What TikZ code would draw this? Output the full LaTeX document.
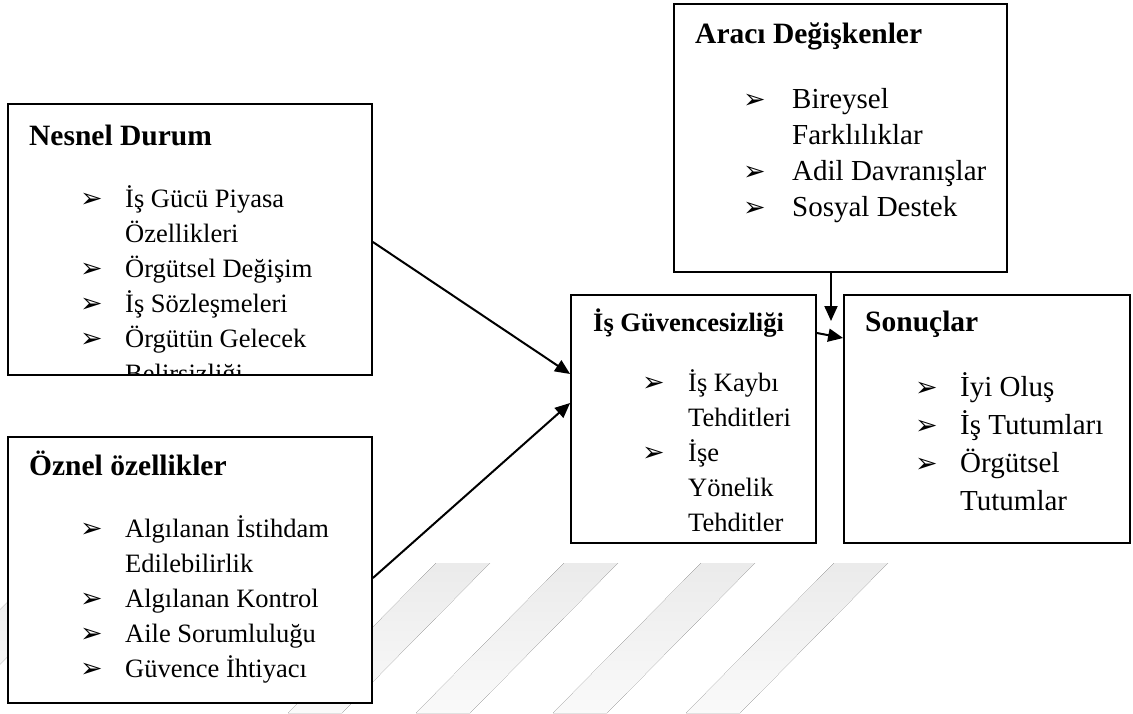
\documentclass[tikz,border=0pt]{standalone}
\usepackage{fontspec}
\setmainfont{Liberation Serif}
\newfontfamily\dingfont{DejaVu Sans}
\usetikzlibrary{calc,arrows.meta}

\begin{document}
\begin{tikzpicture}[x=1pt,y=-1pt,
  box/.style={draw, line width=1.8pt, fill=white, rectangle, inner sep=0pt},
  arr/.style={line width=2pt, -{Triangle[length=15pt,width=13pt]}},
  ttl/.style={anchor=base west, inner sep=0pt, font=\bfseries\fontsize{29.5}{29.5}\selectfont},
  ttls/.style={ttl, font=\bfseries\fontsize{26.5}{26.5}\selectfont},
  txt/.style={anchor=base west, inner sep=0pt, font=\fontsize{26.5}{26.5}\selectfont},
  txtl/.style={txt, font=\fontsize{29}{29}\selectfont},
  blt/.style={anchor=base west, inner sep=0pt, font=\dingfont\fontsize{27}{27}\selectfont},
  wm/.style={top color=black!8, bottom color=black!2, draw=none}
]
\useasboundingbox (0,0) rectangle (1133,713);

% faint diagonal stripes in the lower part of the page
\foreach \x in {46,436,564,701,834}
  \fill[wm] (\x,563) -- (\x+54,563) -- (\x+54-148,713) -- (\x-148,713) -- cycle;

% boxes
\node[box, minimum width=364pt, minimum height=271pt] (nes) at (190,239.5) {};
\node[box, minimum width=364pt, minimum height=266pt] (ozn) at (190,570) {};
\node[box, minimum width=333pt, minimum height=268pt] (ara) at (840.5,138) {};
\node[box, minimum width=245pt, minimum height=248pt] (guv) at (693.5,419) {};
\node[box, minimum width=286pt, minimum height=248pt] (son) at (987,419) {};

% connectors
\coordinate (araend) at (831,321);
\draw[arr] ($(nes.east)+(0,2.5)$) -- ($(guv.west)+(0,-45)$);
\draw[arr] ($(ozn.east)+(0,8)$) -- ($(guv.west)+(0,-16)$);
\draw[arr] ($(ara.south)+(-9.5,0)$) -- (araend);
\draw[arr] ($(guv.east)+(0,-86)$) -- ($(son.west)+(0,-81)$);

% Nesnel Durum
\node[ttl] (t1) at (29,145) {Nesnel Durum};
\node[blt] (b11) at (80,207) {➢};
\node[txt] (x11) at (125,207) {İş Gücü Piyasa};
\node[txt] (x12) at (125,242) {Özellikleri};
\node[blt] (b13) at (80,277) {➢};
\node[txt] (x13) at (125,277) {Örgütsel Değişim};
\node[blt] (b14) at (80,312) {➢};
\node[txt] (x14) at (125,312) {İş Sözleşmeleri};
\node[blt] (b15) at (80,347) {➢};
\node[txt] (x15) at (125,347) {Örgütün Gelecek};
\begin{scope}
  \clip (9,105) rectangle (371,374);
  \node[txt] (x16) at (125,382) {Belirsizliği};
\end{scope}

% Öznel özellikler
\node[ttl] (t2) at (29,475) {Öznel özellikler};
\node[blt] (b21) at (80,537) {➢};
\node[txt] (x21) at (125,537) {Algılanan İstihdam};
\node[txt] (x22) at (125,572) {Edilebilirlik};
\node[blt] (b23) at (80,607) {➢};
\node[txt] (x23) at (125,607) {Algılanan Kontrol};
\node[blt] (b24) at (80,642) {➢};
\node[txt] (x24) at (125,642) {Aile Sorumluluğu};
\node[blt] (b25) at (80,677) {➢};
\node[txt] (x25) at (125,677) {Güvence İhtiyacı};

% Aracı Değişkenler
\node[ttl] (t3) at (695,43) {Aracı Değişkenler};
\node[blt] (b31) at (743,108) {➢};
\node[txtl] (x31) at (792,108) {Bireysel};
\node[txtl] (x32) at (792,144) {Farklılıklar};
\node[blt] (b33) at (743,180) {➢};
\node[txtl] (x33) at (792,180) {Adil Davranışlar};
\node[blt] (b34) at (743,216) {➢};
\node[txtl] (x34) at (792,216) {Sosyal Destek};

% İş Güvencesizliği
\node[ttls] (t4) at (593,331) {İş Güvencesizliği};
\node[blt] (b41) at (642,391) {➢};
\node[txt] (x41) at (688,391) {İş Kaybı};
\node[txt] (x42) at (688,426) {Tehditleri};
\node[blt] (b43) at (642,461) {➢};
\node[txt] (x43) at (688,461) {İşe};
\node[txt] (x44) at (688,496) {Yönelik};
\node[txt] (x45) at (688,531) {Tehditler};

% Sonuçlar
\node[ttl] (t5) at (865,331) {Sonuçlar};
\node[blt] (b51) at (915,396) {➢};
\node[txtl] (x51) at (960,396) {İyi Oluş};
\node[blt] (b52) at (915,434) {➢};
\node[txtl] (x52) at (960,434) {İş Tutumları};
\node[blt] (b53) at (915,472) {➢};
\node[txtl] (x53) at (960,472) {Örgütsel};
\node[txtl] (x54) at (960,510) {Tutumlar};
\end{tikzpicture}
\end{document}
